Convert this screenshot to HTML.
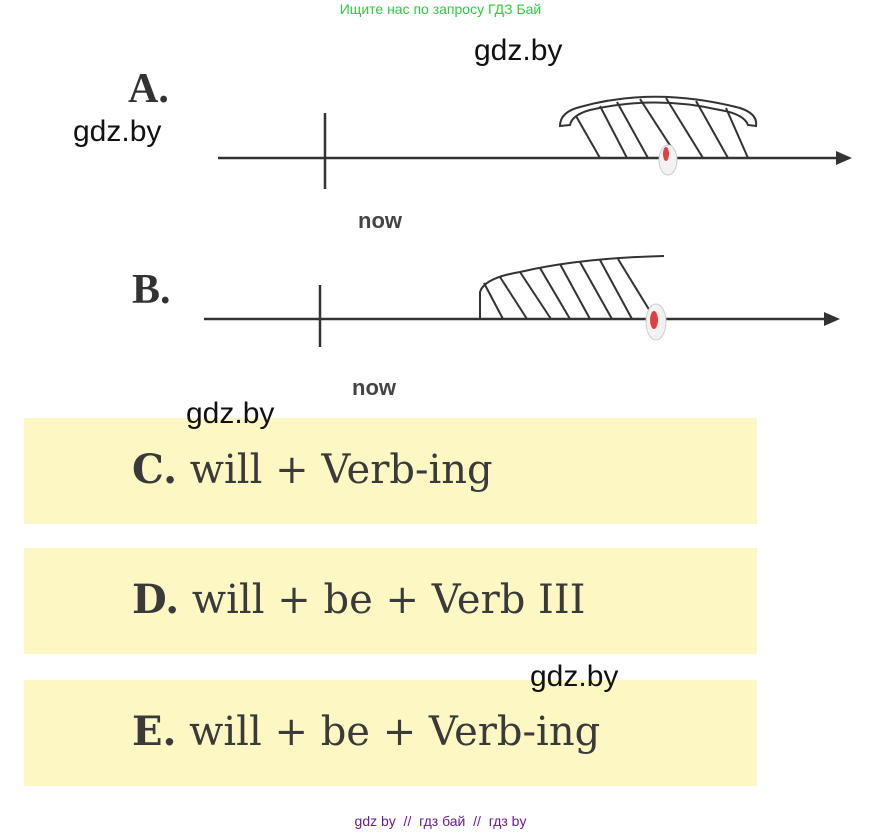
<!DOCTYPE html>
<html><head><meta charset="utf-8"><style>
body{margin:0;width:881px;height:833px;background:#fff;position:relative;overflow:hidden;font-family:"Liberation Sans",sans-serif}
.a{position:absolute}
.box{position:absolute;left:24px;width:733px;height:106px;background:#fdf8c3}
.box span{position:absolute;left:108px;top:28px;font-family:"DejaVu Serif",serif;font-size:40px;color:#3a3a3a;white-space:nowrap}
.box b{font-weight:bold}
.g{font-size:30px;color:#111}
.lt{font-family:"Liberation Serif",serif;font-weight:bold;font-size:42px;color:#333}
.now{font-weight:bold;font-size:22px;color:#444}
</style></head><body>
<div class="a" style="left:0;width:881px;top:1px;text-align:center;font-size:14px;color:#2ecc40">Ищите нас по запросу ГДЗ Бай</div>
<div class="a g" style="left:474px;top:34px">gdz.by</div>
<div class="a g" style="left:73px;top:115px">gdz.by</div>
<div class="a lt" style="left:128px;top:65px">A.</div>
<div class="a lt" style="left:132px;top:266px">B.</div>
<div class="a now" style="left:358px;top:208px">now</div>
<div class="a now" style="left:352px;top:375px">now</div>
<svg class="a" style="left:0;top:0" width="881" height="833">
<g stroke="#333" stroke-width="2.5" fill="none">
<line x1="218" y1="158" x2="840" y2="158"/><line x1="325" y1="113" x2="325" y2="189"/>
<line x1="204" y1="319" x2="828" y2="319"/><line x1="320" y1="285" x2="320" y2="347"/>
<path d="M560 126 Q560 112 580 107 Q655 86 740 108 Q758 114 756 126 L748 125 Q744 114 720 110 Q655 95 590 110 Q572 115 570 125 Z" stroke-width="2"/>
<g stroke-width="2">
<line x1="576" y1="116" x2="600" y2="158"/><line x1="600" y1="106" x2="627" y2="158"/>
<line x1="617" y1="102" x2="648" y2="158"/><line x1="640" y1="99" x2="673" y2="150"/>
<line x1="666" y1="98" x2="703" y2="158"/><line x1="696" y1="101" x2="728" y2="158"/>
<line x1="726" y1="108" x2="748" y2="158"/>
<path d="M480 319 L480 292 Q484 278 520 272 Q580 258 664 256"/>
<line x1="484" y1="283" x2="503" y2="319"/><line x1="500" y1="277" x2="527" y2="319"/>
<line x1="520" y1="272" x2="551" y2="319"/><line x1="540" y1="268" x2="570" y2="319"/>
<line x1="560" y1="264" x2="590" y2="319"/><line x1="580" y1="262" x2="612" y2="319"/>
<line x1="600" y1="260" x2="632" y2="319"/><line x1="618" y1="259" x2="653" y2="316"/>
</g></g>
<polygon points="852,158 836,151 836,165" fill="#333"/>
<polygon points="840,319 824,312 824,326" fill="#333"/>
<ellipse cx="668" cy="160" rx="9" ry="15" fill="#f2f2f2" stroke="#ccc"/>
<ellipse cx="666" cy="154" rx="3" ry="7" fill="#e04040"/>
<ellipse cx="656" cy="322" rx="10" ry="18" fill="#f2f2f2" stroke="#ccc"/>
<ellipse cx="654" cy="320" rx="4" ry="9" fill="#e04040"/>
</svg>
<div class="box" style="top:418px"><span><b>C.</b> will + Verb-ing</span></div>
<div class="box" style="top:548px"><span><b>D.</b> will + be + Verb III</span></div>
<div class="box" style="top:680px"><span><b>E.</b> will + be + Verb-ing</span></div>
<div class="a g" style="left:186px;top:397px">gdz.by</div>
<div class="a g" style="left:530px;top:660px">gdz.by</div>
<div class="a" style="left:0;width:881px;top:813px;text-align:center;font-size:14px;color:#6a1b9a">gdz by &nbsp;// &nbsp;гдз бай &nbsp;// &nbsp;гдз by</div>
</body></html>
